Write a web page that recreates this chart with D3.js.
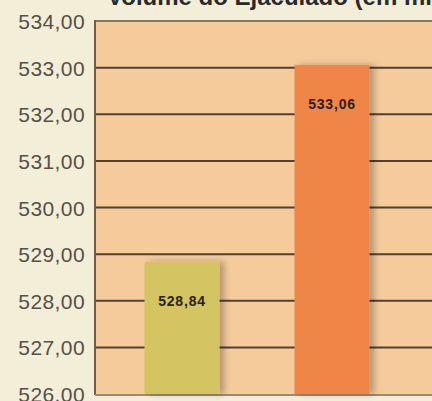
<!DOCTYPE html>
<html>
<head>
<meta charset="utf-8">
<script src="https://cdn.jsdelivr.net/npm/d3@7"></script>
<style>
  body { margin: 0; background: #f3eed8; overflow: hidden; }
  svg { display: block; font-family: "Liberation Sans", Arial, sans-serif; }
</style>
</head>
<body>
<div id="chart"></div>
<script>
const title = 'Volume do Ejaculado (em ml)'
const categories = ['A', 'B']
const values = [528.84, 533.06]
const barColors = ['#d5c562', '#ef8547']
const yTicks = [526, 527, 528, 529, 530, 531, 532, 533, 534]

const W = 432, H = 401
const plot = {left: 95, top: 21, right: 480, bottom: 394}

const fmt = v => d3.format('.2f')(v).replace('.', ',')

const svg = d3.select('#chart').append('svg')
  .attr('width', W).attr('height', H)

const defs = svg.append('defs')
const f = defs.append('filter').attr('id', 'shadow')
  .attr('x', '-20%').attr('y', '-20%').attr('width', '160%').attr('height', '140%')
f.append('feGaussianBlur').attr('in', 'SourceAlpha').attr('stdDeviation', 3)
f.append('feOffset').attr('dx', 5).attr('dy', 0).attr('result', 'b')
f.append('feComponentTransfer').append('feFuncA').attr('type', 'linear').attr('slope', 0.25)
const m = f.append('feMerge')
m.append('feMergeNode')
m.append('feMergeNode').attr('in', 'SourceGraphic')

const y = d3.scaleLinear().domain([526, 534]).range([plot.bottom, plot.top])
const x = d3.scaleBand().domain(categories)
  .range([plot.left, plot.left + 324])
  .paddingInner(0.5).paddingOuter(0.33)

// plot background
svg.append('rect')
  .attr('x', plot.left).attr('y', plot.top)
  .attr('width', plot.right - plot.left).attr('height', plot.bottom - plot.top)
  .attr('fill', '#f5cb9b')

// gridlines
svg.append('g')
  .selectAll('line')
  .data(yTicks.slice(1, -1))
  .join('line')
    .attr('x1', plot.left).attr('x2', plot.right)
    .attr('y1', d => y(d)).attr('y2', d => y(d))
    .attr('stroke', '#4e4032').attr('stroke-width', 2)

// frame
svg.append('line')
  .attr('x1', plot.left).attr('x2', plot.right)
  .attr('y1', plot.top).attr('y2', plot.top)
  .attr('stroke', '#8a7560').attr('stroke-width', 2)
svg.append('line')
  .attr('x1', plot.left).attr('x2', plot.left)
  .attr('y1', plot.top - 1).attr('y2', plot.bottom + 1)
  .attr('stroke', '#6e5e4c').attr('stroke-width', 2)
svg.append('line')
  .attr('x1', plot.left).attr('x2', plot.right)
  .attr('y1', plot.bottom + 1).attr('y2', plot.bottom + 1)
  .attr('stroke', '#9a8a78').attr('stroke-width', 2)

// bars
const data = categories.map((c, i) => ({cat: c, value: values[i], color: barColors[i]}))
svg.append('g')
  .selectAll('rect')
  .data(data)
  .join('rect')
    .attr('x', d => x(d.cat))
    .attr('y', d => y(d.value))
    .attr('width', x.bandwidth())
    .attr('height', d => y(526) - y(d.value))
    .attr('fill', d => d.color)
    .attr('filter', 'url(#shadow)')

svg.append('g')
  .selectAll('text')
  .data(data)
  .join('text')
    .attr('x', d => x(d.cat) + x.bandwidth() / 2)
    .attr('y', d => y(d.value) + 44)
    .attr('text-anchor', 'middle')
    .attr('font-size', 14)
    .attr('letter-spacing', 0.8)
    .attr('font-weight', 'bold')
    .attr('fill', '#2a2118')
    .text(d => fmt(d.value))

// y axis labels
svg.append('g')
  .selectAll('text')
  .data(yTicks)
  .join('text')
    .attr('x', 85)
    .attr('y', d => y(d) + 8)
    .attr('text-anchor', 'end')
    .attr('font-size', 21)
    .attr('letter-spacing', 0.4)
    .attr('fill', '#555048')
    .text(d => fmt(d))

// title (cut at the top)
svg.append('text')
  .attr('x', 107).attr('y', 5)
  .attr('font-size', 24)
  .attr('font-weight', 'bold')
  .attr('fill', '#2a2a2a')
  .text(title)
</script>
</body>
</html>
